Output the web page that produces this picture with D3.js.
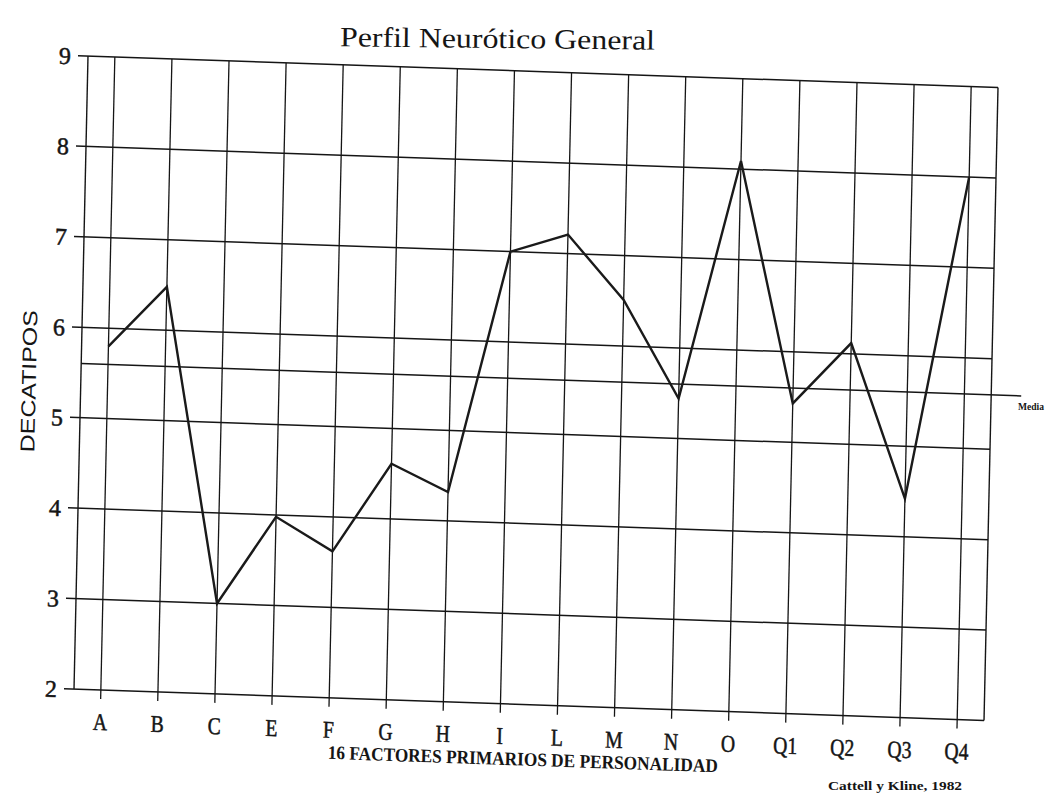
<!DOCTYPE html>
<html>
<head>
<meta charset="utf-8">
<script src="https://cdn.jsdelivr.net/npm/d3@7/dist/d3.min.js"></script>
<style>
  html, body { margin: 0; padding: 0; background: #fff; overflow: hidden; }
  svg { display: block; }
</style>
</head>
<body>
<svg id="chart" width="1047" height="794"></svg>
<script>
// ---- data ----
const categories = ["A","B","C","E","F","G","H","I","L","M","N","O","Q1","Q2","Q3","Q4"];
const values = [5.8, 6.48, 3.0, 3.98, 3.62, 4.61, 4.32, 7.0, 7.21, 6.51, 5.44, 8.09, 5.43, 6.12, 4.42, 8.0];
const yTicks = [2, 3, 4, 5, 6, 7, 8, 9];
const mediaValue = 5.6;
const title = "Perfil Neurótico General";
const xTitle = "16 FACTORES PRIMARIOS DE PERSONALIDAD";
const yTitle = "DECATIPOS";
const source = "Cattell y Kline, 1982";
const mediaLabel = "Media";

// ---- layout ----
const W = 910, H = 633;
const svg = d3.select("#chart");

// scanned page is slightly skewed/rotated: use an affine transform
const g = svg.append("g")
  .attr("transform", "matrix(1,0.0346,-0.0221,1,88,56)");

const x = d3.scalePoint().domain(categories).range([0, W]).padding(0.47);
const y = d3.scaleLinear().domain([2, 9]).range([H, 0]);

const ink = "#151515";
const serif = "'Liberation Serif', 'DejaVu Serif', serif";

// horizontal grid lines (with left tick stubs)
g.append("g").selectAll("line").data(yTicks).join("line")
  .attr("x1", -10).attr("x2", W)
  .attr("y1", d => y(d)).attr("y2", d => y(d))
  .attr("stroke", ink).attr("stroke-width", 1.5);

// borders
g.append("line").attr("x1", 0).attr("x2", 0).attr("y1", y(9)).attr("y2", y(2))
  .attr("stroke", ink).attr("stroke-width", 1.4);
g.append("line").attr("x1", W).attr("x2", W).attr("y1", y(9)).attr("y2", y(2))
  .attr("stroke", ink).attr("stroke-width", 1.4);

// vertical lines per factor (with bottom tick stubs)
g.append("g").selectAll("line").data(categories).join("line")
  .attr("x1", d => x(d)).attr("x2", d => x(d))
  .attr("y1", y(9)).attr("y2", y(2) + 9)
  .attr("stroke", ink).attr("stroke-width", 1.3);

// media line
g.append("line").attr("x1", 0).attr("x2", W + 30)
  .attr("y1", y(mediaValue)).attr("y2", y(mediaValue))
  .attr("stroke", ink).attr("stroke-width", 1.5);

// y tick labels
g.append("g").selectAll("text").data(yTicks).join("text")
  .attr("x", -17).attr("y", d => y(d)).attr("dy", "0.36em")
  .attr("text-anchor", "end")
  .attr("font-family", serif)
  .attr("font-size", 24).attr("fill", ink)
  .attr("stroke", ink).attr("stroke-width", 0.5)
  .text(d => d);

// x labels
g.append("g").selectAll("text").data(categories).join("text")
  .attr("x", d => x(d)).attr("y", H + 40)
  .attr("text-anchor", "middle")
  .attr("font-family", serif)
  .attr("font-size", 24).attr("fill", ink)
  .attr("stroke", ink).attr("stroke-width", 0.5)
  .attr("transform", d => `translate(${x(d)},${H + 40}) scale(0.82,1) translate(${-x(d)},${-(H + 40)})`)
  .text(d => d);

// profile line
const line = d3.line()
  .x((d, i) => x(categories[i]))
  .y(d => y(d));
g.append("path").datum(values)
  .attr("d", line)
  .attr("fill", "none").attr("stroke", "#1a1a1a")
  .attr("stroke-width", 2.4).attr("stroke-linejoin", "miter");

// x axis title
g.append("text")
  .attr("x", 255).attr("y", H + 61)
  .attr("font-family", serif)
  .attr("font-weight", "bold").attr("font-size", 19).attr("fill", ink)
  .attr("textLength", 390).attr("lengthAdjust", "spacingAndGlyphs")
  .text(xTitle);

// y axis title
g.append("text")
  .attr("transform", `translate(-52,${327}) rotate(-90)`)
  .attr("text-anchor", "middle").attr("dy", "0.35em")
  .attr("font-family", "'Liberation Sans', Arial, sans-serif")
  .attr("font-size", 20).attr("fill", ink)
  .attr("textLength", 142).attr("lengthAdjust", "spacingAndGlyphs")
  .text(yTitle);

// media label (kept inside the page)
svg.append("text")
  .attr("x", 1044).attr("y", 410)
  .attr("text-anchor", "end")
  .attr("font-family", serif)
  .attr("font-weight", "bold").attr("font-size", 10).attr("fill", ink)
  .attr("textLength", 26).attr("lengthAdjust", "spacingAndGlyphs")
  .text(mediaLabel);

// title
svg.append("text")
  .attr("x", 340).attr("y", 48)
  .attr("transform", "rotate(0.6,497,40)")
  .attr("font-family", serif)
  .attr("font-size", 28).attr("fill", ink)
  .attr("textLength", 315).attr("lengthAdjust", "spacingAndGlyphs")
  .text(title);

// source
svg.append("text")
  .attr("x", 828).attr("y", 790)
  .attr("font-family", serif)
  .attr("font-weight", "bold").attr("font-size", 12).attr("fill", ink)
  .attr("textLength", 134).attr("lengthAdjust", "spacingAndGlyphs")
  .text(source);
</script>
</body>
</html>
